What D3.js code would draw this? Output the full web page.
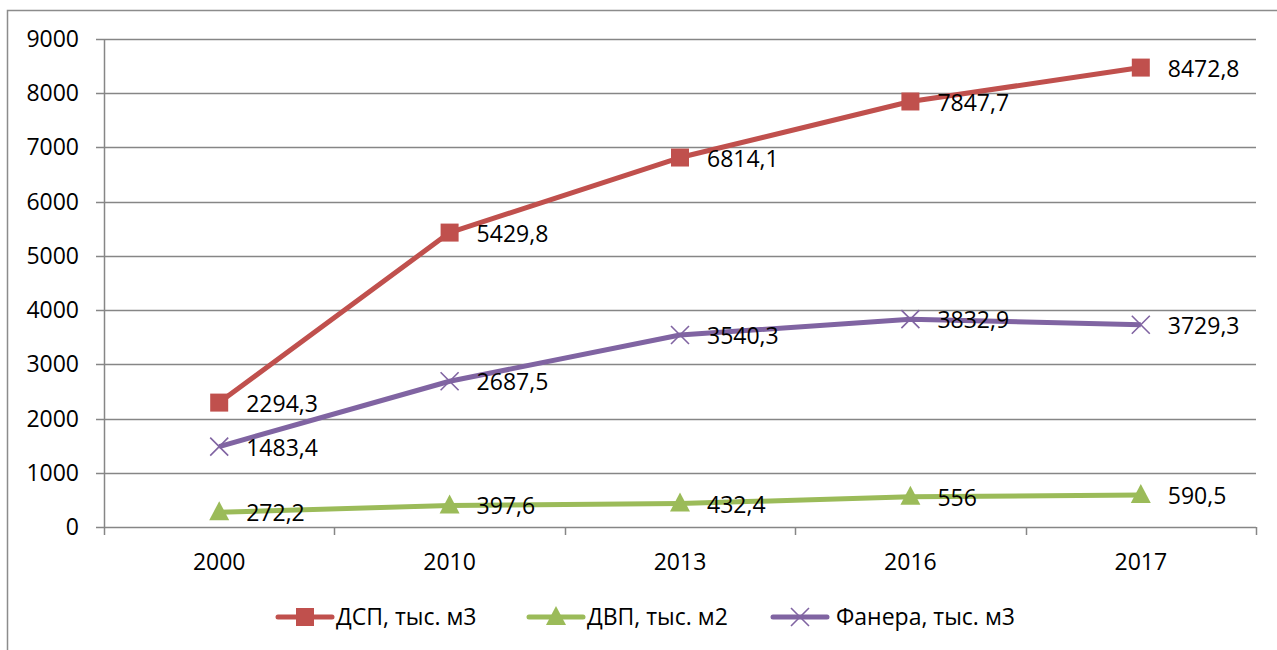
<!DOCTYPE html>
<html>
<head>
<meta charset="utf-8">
<script src="https://cdnjs.cloudflare.com/ajax/libs/d3/7.8.5/d3.min.js"></script>
<style>
  body { margin: 0; background: #fff; }
  svg text { font-family: "Open Sans", "Liberation Sans", sans-serif; fill: #000; }
</style>
</head>
<body>
<svg class="main" width="1277" height="650"></svg>
<script>
'use strict';

// data
var years = ['2000', '2010', '2013', '2016', '2017'];
var dspValues = [2294.3, 5429.8, 6814.1, 7847.7, 8472.8];
var dvpValues = [272.2, 397.6, 432.4, 556, 590.5];
var faneraValues = [1483.4, 2687.5, 3540.3, 3832.9, 3729.3];
var seriesNames = ['ДСП, тыс. м3', 'ДВП, тыс. м2', 'Фанера, тыс. м3'];
var yTicks = [0, 1000, 2000, 3000, 4000, 5000, 6000, 7000, 8000, 9000];

var series = [
    {name: seriesNames[0], values: dspValues, color: '#C0504D', marker: 'square'},
    {name: seriesNames[1], values: dvpValues, color: '#9BBB59', marker: 'triangle'},
    {name: seriesNames[2], values: faneraValues, color: '#8064A2', marker: 'cross'}
];

var svg = d3.select('svg.main');
var fontSize = 23;

// outer chart border
svg.append('rect')
    .attr('x', 7.5).attr('y', 10.5)
    .attr('width', 1290).attr('height', 660)
    .attr('fill', 'none').attr('stroke', '#8c8c8c').attr('stroke-width', 1.5);

var plot = {left: 104, right: 1256, top: 39, bottom: 527};

var x = d3.scaleBand().domain(years).range([plot.left, plot.right]);
var y = d3.scaleLinear().domain([0, 9000]).range([plot.bottom, plot.top]);

function cx(i) { return x(years[i]) + x.bandwidth() / 2; }

// gridlines + y labels
var yAxis = svg.append('g').attr('class', 'y-axis');
yAxis.selectAll('line.grid')
    .data(yTicks)
    .enter()
    .append('line')
    .attr('class', 'grid')
    .attr('x1', plot.left - 8).attr('x2', plot.right)
    .attr('y1', function (d) { return Math.round(y(d)) + 0.5; })
    .attr('y2', function (d) { return Math.round(y(d)) + 0.5; })
    .attr('stroke', '#868686').attr('stroke-width', 1.5);

yAxis.selectAll('text')
    .data(yTicks)
    .enter()
    .append('text')
    .attr('x', plot.left - 25)
    .attr('y', function (d) { return y(d); })
    .attr('dy', '0.35em')
    .attr('text-anchor', 'end')
    .style('font-size', fontSize + 'px')
    .text(function (d) { return d; });

// vertical axis line
svg.append('line')
    .attr('x1', plot.left + 0.5).attr('x2', plot.left + 0.5)
    .attr('y1', plot.top).attr('y2', plot.bottom + 8)
    .attr('stroke', '#868686').attr('stroke-width', 1.5);

// category ticks and labels
var xBounds = years.map(function (d) { return x(d) + x.bandwidth(); });
svg.append('g').selectAll('line')
    .data(xBounds)
    .enter()
    .append('line')
    .attr('x1', function (d) { return Math.round(d) + 0.5; })
    .attr('x2', function (d) { return Math.round(d) + 0.5; })
    .attr('y1', plot.bottom).attr('y2', plot.bottom + 8)
    .attr('stroke', '#868686').attr('stroke-width', 1.5);

svg.append('g').selectAll('text')
    .data(years)
    .enter()
    .append('text')
    .attr('x', function (d, i) { return cx(i); })
    .attr('y', 562)
    .attr('dy', '0.35em')
    .attr('text-anchor', 'middle')
    .style('font-size', fontSize + 'px')
    .text(function (d) { return d; });

// markers
function drawMarker(g, type, color, px, py) {
    if (type === 'square') {
        g.append('rect')
            .attr('x', px - 9).attr('y', py - 9)
            .attr('width', 18).attr('height', 18)
            .attr('fill', color);
    } else if (type === 'triangle') {
        g.append('path')
            .attr('d', 'M' + px + ',' + (py - 11) + ' L' + (px + 10) + ',' + (py + 8) + ' L' + (px - 10) + ',' + (py + 8) + ' Z')
            .attr('fill', color);
    } else {
        g.append('path')
            .attr('d', 'M' + (px - 9) + ',' + (py - 9) + ' L' + (px + 9) + ',' + (py + 9) +
                ' M' + (px + 9) + ',' + (py - 9) + ' L' + (px - 9) + ',' + (py + 9))
            .attr('stroke', color).attr('stroke-width', 1.6).attr('fill', 'none');
    }
}

var line = d3.line()
    .x(function (d, i) { return cx(i); })
    .y(function (d) { return y(d); });

var seriesGroup = svg.append('g').attr('class', 'series');

series.forEach(function (s) {
    var g = seriesGroup.append('g');
    g.append('path')
        .datum(s.values)
        .attr('d', line)
        .attr('fill', 'none')
        .attr('stroke', s.color)
        .attr('stroke-width', 5)
        .attr('stroke-linejoin', 'round');
    s.values.forEach(function (v, i) {
        drawMarker(g, s.marker, s.color, cx(i), y(v));
    });
});

// data labels (on top)
series.forEach(function (s) {
    svg.append('g').selectAll('text')
        .data(s.values)
        .enter()
        .append('text')
        .attr('x', function (d, i) { return cx(i) + 27; })
        .attr('y', function (d) { return y(d) + 1; })
        .attr('dy', '0.35em')
        .style('font-size', fontSize + 'px')
        .text(function (d) { return String(d).replace('.', ','); });
});

// legend
var legendX = [278, 529, 773];
var legend = svg.append('g').attr('class', 'legend');
series.forEach(function (s, i) {
    var lg = legend.append('g');
    var lx = legendX[i], ly = 617;
    lg.append('line')
        .attr('x1', lx).attr('x2', lx + 54)
        .attr('y1', ly).attr('y2', ly)
        .attr('stroke', s.color).attr('stroke-width', 5)
        .attr('stroke-linecap', 'round');
    drawMarker(lg, s.marker, s.color, lx + 27, ly);
    lg.append('text')
        .attr('x', lx + 58 + (i === 2 ? 5 : 0))
        .attr('y', ly)
        .attr('dy', '0.35em')
        .style('font-size', fontSize + 'px')
        .text(s.name);
});
</script>
</body>
</html>
